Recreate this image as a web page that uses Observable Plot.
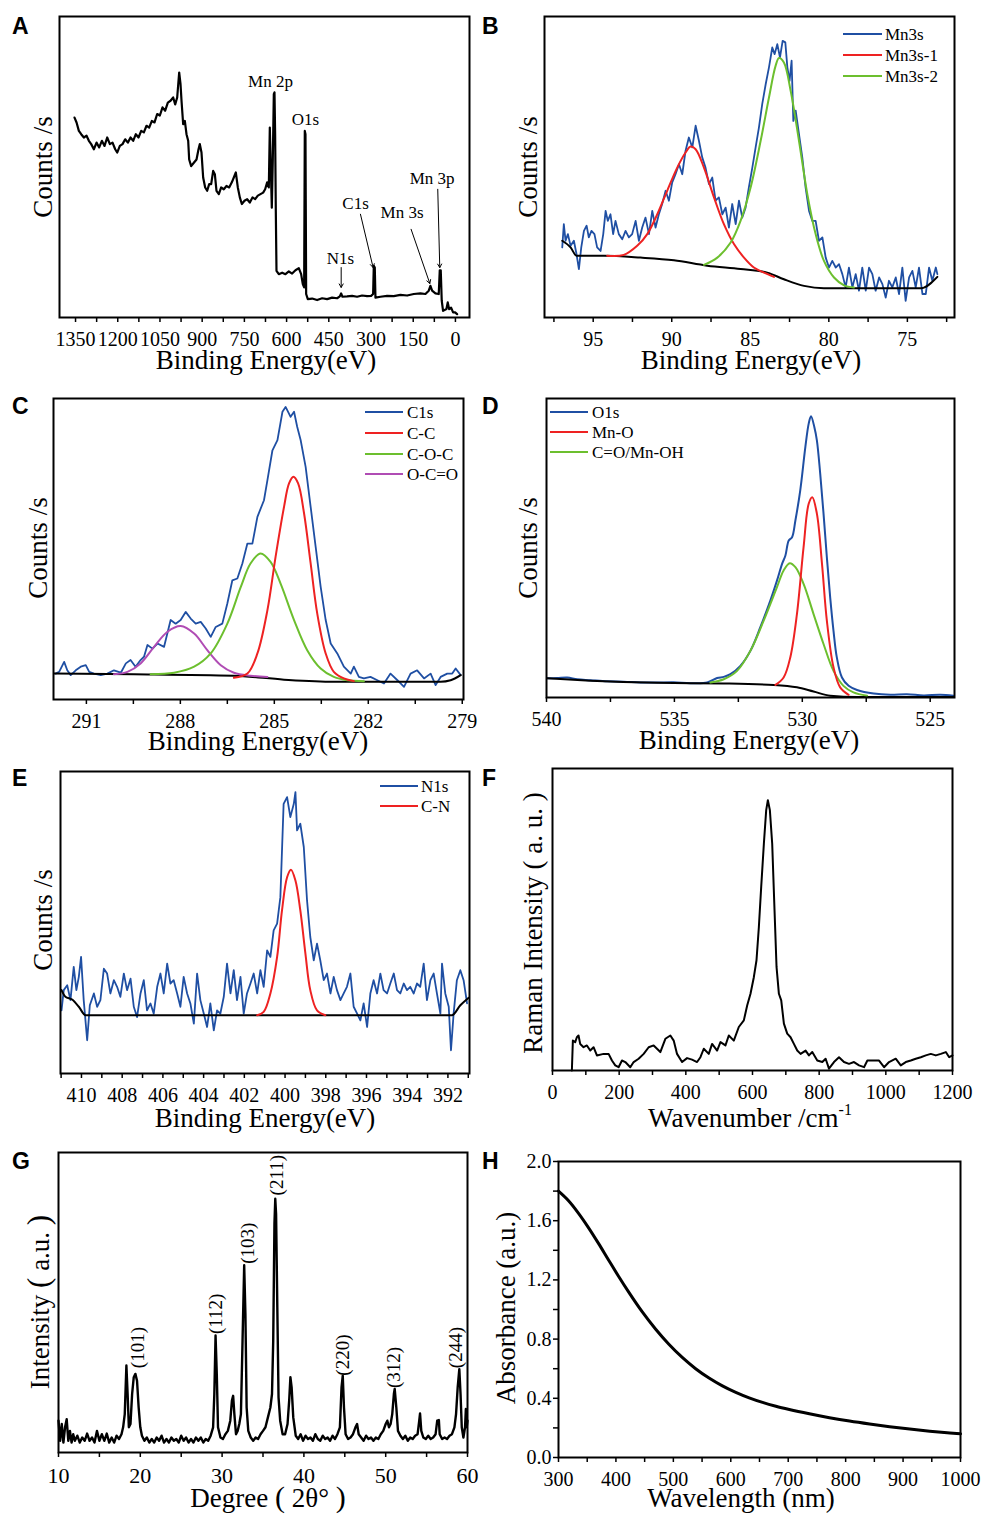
<!DOCTYPE html>
<html><head><meta charset="utf-8">
<script src="https://cdn.jsdelivr.net/npm/d3@7"></script>
<script src="https://cdn.jsdelivr.net/npm/@observablehq/plot@0.6"></script>
<style>
body{margin:0;background:#fff;}
#page{position:relative;width:982px;height:1515px;overflow:hidden;font-family:"Liberation Serif","Times New Roman",serif;color:#000;background:#fff;}
.abs{position:absolute;white-space:nowrap;line-height:1;}
</style></head><body><div id="page"></div>
<script>
const BLUE="#1f4fa3", RED="#ee2222", GREEN="#6cbf2e", PURPLE="#b04cb4";

// ---------- Panel A: XPS survey ----------
const surveyA = [[1353.6,66.4],[1346.4,64.8],[1338.2,62.0],[1329.9,60.9],[1320.4,59.8],[1310.9,60.4],[1302.6,58.7],[1294.3,57.6],[1284.9,55.9],[1275.4,58.1],[1265.9,56.5],[1256.4,58.7],[1247.0,57.0],[1237.5,59.8],[1228.0,57.6],[1218.6,58.1],[1209.1,55.9],[1202.0,54.8],[1192.5,57.0],[1183.0,57.6],[1173.6,59.2],[1164.1,58.1],[1154.6,59.8],[1145.1,58.7],[1135.7,60.9],[1126.2,59.8],[1116.7,62.0],[1107.2,61.5],[1097.8,63.7],[1088.3,63.1],[1078.8,65.3],[1069.3,64.8],[1059.9,67.6],[1050.4,67.1],[1040.9,69.8],[1031.5,68.7],[1022.0,71.4],[1012.5,72.0],[1003.0,73.1],[995.9,70.8],[988.8,73.1],[981.7,81.4],[976.9,77.5],[973.4,72.0],[967.5,64.2],[961.6,65.3],[955.7,60.9],[949.7,58.7],[946.2,52.5],[939.1,50.3],[929.6,51.4],[920.1,52.5],[913.0,55.9],[908.3,57.6],[902.4,54.8],[896.5,46.5],[889.3,43.2],[882.2,42.1],[875.1,44.3],[868.0,44.3],[860.9,48.7],[855.0,47.6],[849.1,42.1],[840.8,41.0],[832.5,43.2],[823.0,42.6],[813.6,43.7],[804.1,43.2],[794.6,44.9],[787.5,46.5],[780.4,48.2],[773.3,43.2],[766.2,39.9],[759.1,37.7],[749.6,38.8],[740.1,39.3],[730.7,38.2],[721.2,39.9],[711.7,39.3],[702.2,40.5],[692.8,41.0],[683.3,41.5],[676.2,42.6],[669.1,44.9],[663.2,43.2],[659.6,63.1],[656.1,49.8],[652.5,36.5],[649.0,52.5],[645.4,74.2],[643.0,74.8],[640.7,60.9],[638.3,35.4],[635.9,15.5],[627.6,14.4],[615.8,14.9],[604.0,14.4],[592.1,15.3],[580.3,14.6],[568.4,15.7],[556.6,16.4],[548.3,14.4],[542.4,11.1],[537.6,10.0],[535.3,62.0],[532.9,60.9],[530.5,7.8],[524.6,6.1],[509.2,6.3],[491.5,5.8],[473.7,6.4],[455.9,6.1],[438.2,6.6],[420.4,6.4],[410.9,7.0],[406.2,8.0],[401.5,6.9],[384.9,7.0],[367.1,7.2],[349.4,6.9],[331.6,7.3],[313.8,7.1],[299.6,7.2],[292.5,7.8],[290.1,17.2],[286.6,16.6],[284.2,6.6],[266.5,6.9],[242.8,7.2],[219.1,7.1],[195.4,7.5],[171.7,7.3],[148.0,7.8],[124.4,8.0],[106.6,7.8],[94.8,8.9],[88.9,10.5],[82.9,8.9],[71.1,8.0],[59.3,7.8],[55.7,15.7],[52.2,15.7],[48.6,5.5],[43.9,2.2],[32.0,2.8],[27.3,5.0],[22.5,2.8],[15.4,3.3],[8.3,1.7],[1.2,1.7],[-5.9,1.1]];
const peakNamesA = [["Mn 2p",657,78.3],["O1s",533,65.7],["C1s",355,37.7],["Mn 3s",189.5,34.9],["N1s",408.6,19.7],["Mn 3p",83,46.0]];
const arrowsA = [[406,16.6,406,10.0],[337.5,34.3,292.5,16.6],[157.5,29.3,91,11.3],[62.8,42.6,55.7,16.6]];
const ticksA = [1350,1275,1200,1125,1050,975,900,825,750,675,600,525,450,375,300,225,150,75,0];
const labelsA = [1350,1200,1050,900,750,600,450,300,150,0];

// ---------- Panel B: Mn3s ----------
const mn3s = [[96.97,23.3],[96.87,31.0],[96.76,25.5],[96.61,27.7],[96.44,23.8],[96.23,25.5],[96.06,21.0],[95.91,16.1],[95.76,23.3],[95.59,28.8],[95.42,30.5],[95.28,26.6],[95.11,28.8],[94.92,27.7],[94.75,23.3],[94.53,22.1],[94.36,27.7],[94.21,35.4],[94.07,32.1],[93.90,34.3],[93.73,27.7],[93.58,32.1],[93.37,27.7],[93.15,26.0],[92.94,28.8],[92.73,26.6],[92.52,27.7],[92.30,32.1],[92.09,25.5],[91.88,29.9],[91.67,33.2],[91.45,27.7],[91.24,35.4],[91.03,29.9],[90.82,34.3],[90.61,37.7],[90.39,42.1],[90.18,38.8],[89.97,44.9],[89.76,47.6],[89.54,50.9],[89.33,47.6],[89.12,55.4],[88.91,59.8],[88.69,56.5],[88.48,63.7],[88.27,58.7],[88.06,53.2],[87.85,49.8],[87.63,44.3],[87.42,46.5],[87.21,38.8],[87.00,39.9],[86.78,34.3],[86.57,36.5],[86.36,29.9],[86.15,37.7],[85.93,31.0],[85.72,38.8],[85.51,33.2],[85.30,36.5],[85.09,43.2],[84.87,49.8],[84.66,56.5],[84.45,63.1],[84.24,70.9],[84.02,77.5],[83.81,83.1],[83.60,89.7],[83.45,87.5],[83.28,90.8],[83.11,86.4],[82.94,91.9],[82.77,91.4],[82.64,83.1],[82.50,78.6],[82.37,85.3],[82.26,65.3],[82.11,68.7],[81.90,60.9],[81.69,53.2],[81.48,43.2],[81.26,35.4],[81.05,32.1],[80.84,32.1],[80.63,25.5],[80.41,26.6],[80.20,19.9],[79.99,16.6],[79.78,18.8],[79.56,16.6],[79.35,17.7],[79.14,14.4],[78.93,10.0],[78.72,16.6],[78.50,10.0],[78.29,14.4],[78.08,8.9],[77.87,16.6],[77.65,8.9],[77.44,16.6],[77.23,14.4],[77.02,8.9],[76.80,13.3],[76.59,11.1],[76.38,6.6],[76.17,12.2],[75.96,10.0],[75.74,13.3],[75.53,7.8],[75.32,16.6],[75.11,5.5],[74.89,13.3],[74.68,15.5],[74.47,10.0],[74.26,16.6],[74.04,7.8],[73.83,7.8],[73.62,16.6],[73.41,12.2],[73.19,16.6],[73.09,14.4]];
const mn3s1 = [[94.11,20.5],[93.05,20.8],[92.20,23.8],[91.56,27.7],[90.92,34.3],[90.29,42.1],[89.65,49.8],[89.12,54.8],[88.80,56.8],[88.48,55.9],[87.95,49.8],[87.31,39.9],[86.68,31.0],[86.04,24.4],[85.40,19.9],[84.77,16.6],[84.13,14.9],[83.49,13.5]];
const mn3s2 = [[87.95,17.5],[87.10,19.9],[86.25,24.9],[85.62,32.1],[84.98,43.2],[84.34,58.7],[83.81,73.1],[83.39,83.6],[83.17,86.2],[82.86,84.7],[82.43,75.3],[81.90,58.7],[81.37,41.0],[80.84,27.7],[80.31,18.8],[79.67,13.3],[79.03,10.7],[78.40,10.0]];
const bgB = [[96.97,25.5],[96.44,23.3],[96.06,20.5],[94.32,20.5],[91.99,19.9],[89.86,19.0],[87.74,17.2],[85.62,16.1],[83.92,14.9],[82.86,12.7],[81.58,10.5],[80.31,9.7],[74.15,9.7],[73.09,13.5]];
const ticksB = [97.5,95,92.5,90,87.5,85,82.5,80,77.5,75,72.5];
const labelsB = [95,90,85,80,75];

// ---------- Panel C: C1s ----------
const c1s = [[291.98,8.6],[291.87,9.2],[291.71,12.5],[291.61,9.7],[291.50,8.1],[291.34,9.7],[291.18,10.9],[291.02,11.4],[290.91,9.2],[290.76,8.6],[290.54,8.1],[290.33,8.6],[290.12,9.7],[289.90,8.9],[289.74,12.0],[289.59,13.1],[289.43,10.9],[289.27,13.1],[289.16,14.2],[289.05,18.1],[288.89,16.9],[288.73,18.6],[288.52,17.5],[288.31,26.4],[288.15,25.2],[287.99,26.4],[287.83,29.1],[287.67,26.9],[287.51,25.2],[287.35,25.8],[287.19,23.6],[287.03,20.8],[286.87,24.1],[286.66,25.2],[286.50,31.9],[286.34,39.6],[286.18,40.2],[286.02,45.2],[285.86,51.8],[285.70,51.8],[285.54,60.7],[285.33,66.2],[285.22,72.9],[285.06,82.8],[284.90,86.2],[284.74,95.6],[284.64,97.2],[284.48,93.9],[284.37,95.6],[284.27,90.6],[284.16,86.2],[284.00,77.3],[283.84,64.0],[283.68,50.7],[283.52,37.4],[283.36,26.4],[283.20,18.6],[282.99,15.3],[282.78,10.9],[282.56,8.6],[282.46,10.9],[282.30,7.5],[282.14,7.0],[281.93,7.5],[281.71,6.4],[281.50,5.3],[281.29,8.6],[281.07,6.4],[280.86,4.2],[280.65,8.6],[280.44,9.7],[280.22,7.0],[280.01,8.6],[279.85,4.8],[279.69,7.5],[279.48,8.6],[279.32,8.6],[279.21,10.3],[279.05,8.1]];
const ccC = [[286.29,7.2],[285.86,8.6],[285.54,15.3],[285.22,29.7],[284.96,47.4],[284.69,64.0],[284.53,71.8],[284.39,74.0],[284.24,71.8],[284.05,61.8],[283.84,45.2],[283.63,28.6],[283.36,15.3],[283.10,9.2],[282.78,7.0],[282.46,6.1]];
const cocC = [[288.95,8.4],[288.20,8.9],[287.56,10.9],[287.03,15.3],[286.50,25.2],[286.07,37.4],[285.76,45.2],[285.44,48.5],[285.12,45.7],[284.80,38.5],[284.37,26.4],[283.95,16.4],[283.52,10.3],[283.10,7.5],[282.67,6.4],[282.14,6.1]];
const ocoC = [[290.12,8.4],[289.69,9.2],[289.27,12.0],[288.84,17.5],[288.41,22.5],[287.99,24.4],[287.56,21.9],[287.14,16.4],[286.71,11.4],[286.29,8.9],[285.76,7.9],[285.22,7.5]];
const bgC = [[292.03,8.6],[289.48,8.4],[286.29,7.9],[284.69,6.6],[283.10,5.9],[279.69,5.9],[279.37,6.4],[279.05,8.1]];
const ticksC = [291,289.5,288,286.5,285,283.5,282,280.5,279];
const labelsC = [291,288,285,282,279];

// ---------- Panel D: O1s ----------
const o1s = [[539.97,6.4],[539.58,6.5],[539.19,6.7],[538.80,6.1],[538.28,5.8],[537.63,5.4],[536.98,5.3],[536.33,5.0],[535.68,5.0],[535.03,5.1],[534.38,4.8],[533.72,5.0],[533.33,6.5],[533.07,6.9],[532.81,7.8],[532.42,10.6],[532.03,15.6],[531.64,23.5],[531.25,32.4],[530.99,39.1],[530.79,44.7],[530.66,47.5],[530.53,52.5],[530.40,53.6],[530.27,59.2],[530.08,69.3],[529.88,83.8],[529.75,91.6],[529.66,94.1],[529.53,90.5],[529.43,86.0],[529.30,74.9],[529.17,61.5],[529.04,46.9],[528.91,33.5],[528.78,22.3],[528.65,13.4],[528.45,6.7],[528.19,3.9],[527.86,2.5],[527.21,1.3],[526.56,0.9],[525.91,1.1],[525.26,0.7],[524.61,0.9],[524.09,0.6]];
const mnoD = [[531.05,4.2],[530.73,6.7],[530.47,13.4],[530.21,27.9],[529.95,50.3],[529.75,64.8],[529.61,67.0],[529.43,61.5],[529.23,44.7],[529.04,25.7],[528.78,10.1],[528.52,3.4],[528.19,0.9]];
const cooD = [[533.59,5.0],[533.07,6.1],[532.55,8.9],[532.03,15.6],[531.51,25.7],[530.99,36.9],[530.73,42.5],[530.49,44.9],[530.27,43.6],[529.95,38.0],[529.56,27.9],[529.17,17.9],[528.78,8.9],[528.39,3.9],[528.00,1.7],[527.47,0.6]];
const bgD = [[539.97,6.4],[538.28,5.6],[535.68,4.9],[533.07,4.7],[531.12,4.2],[530.21,3.4],[529.56,2.0],[528.91,0.6],[527.86,0.2],[524.09,0.2]];
const ticksD = [540,537.5,535,532.5,530,527.5,525];
const labelsD = [540,535,530,525];

// ---------- Panel E: N1s ----------
const n1s = [[410.98,20.9],[410.87,27.6],[410.70,29.2],[410.54,24.3],[410.38,35.3],[410.25,27.6],[410.13,32.0],[410.02,38.6],[409.89,24.3],[409.72,11.0],[409.59,22.6],[409.39,26.5],[409.23,22.1],[409.07,24.3],[408.90,34.7],[408.74,33.1],[408.58,26.5],[408.41,30.9],[408.25,28.7],[408.09,25.4],[407.92,33.1],[407.76,27.6],[407.59,31.4],[407.43,22.1],[407.27,18.7],[407.10,26.5],[406.94,30.9],[406.78,20.9],[406.61,23.2],[406.45,19.8],[406.28,28.7],[406.12,33.1],[405.96,26.5],[405.79,36.4],[405.63,29.8],[405.47,30.9],[405.30,26.5],[405.14,22.1],[404.98,32.0],[404.81,26.5],[404.65,23.2],[404.48,16.5],[404.32,33.1],[404.16,24.3],[403.99,19.8],[403.83,15.4],[403.67,23.2],[403.50,14.3],[403.34,20.9],[403.18,19.8],[403.01,25.4],[402.85,36.4],[402.68,26.5],[402.52,34.2],[402.36,24.3],[402.19,32.0],[402.03,19.8],[401.87,26.5],[401.70,29.8],[401.54,33.1],[401.37,26.5],[401.21,34.2],[401.05,28.7],[400.88,40.8],[400.72,38.6],[400.56,47.4],[400.39,49.6],[400.23,58.4],[400.07,89.3],[399.90,91.5],[399.74,84.9],[399.57,89.3],[399.49,93.2],[399.41,80.5],[399.25,82.7],[399.08,75.0],[398.92,57.3],[398.76,45.2],[398.59,37.5],[398.43,43.0],[398.27,37.5],[398.10,30.9],[397.94,33.1],[397.77,26.5],[397.61,32.0],[397.45,27.6],[397.28,24.3],[397.12,26.5],[396.96,28.7],[396.79,33.1],[396.63,22.1],[396.46,19.8],[396.30,17.6],[396.14,23.2],[395.97,15.4],[395.81,26.5],[395.65,30.9],[395.48,26.5],[395.32,33.1],[395.16,27.6],[394.99,26.5],[394.83,29.8],[394.66,33.1],[394.50,27.6],[394.34,26.5],[394.17,29.8],[394.01,27.6],[393.85,28.7],[393.68,26.5],[393.52,29.8],[393.36,28.7],[393.19,36.4],[393.03,24.3],[392.86,30.9],[392.70,33.1],[392.54,26.5],[392.37,19.8],[392.29,36.4],[392.13,26.5],[391.96,22.1],[391.85,7.7],[391.72,19.8],[391.56,30.9],[391.39,34.2],[391.23,30.9],[391.06,23.2]];
const cnE = [[401.37,19.3],[401.05,20.4],[400.72,26.5],[400.39,38.6],[400.15,54.0],[399.90,65.0],[399.71,67.5],[399.49,63.9],[399.25,54.0],[399.00,39.7],[398.76,27.6],[398.43,20.9],[398.02,19.3]];
const bgE = [[410.98,27.6],[410.79,25.4],[410.46,24.5],[410.13,22.1],[409.80,19.3],[391.80,19.3],[391.39,22.6],[390.98,25.1]];
const ticksE = [411,410,409,408,407,406,405,404,403,402,401,400,399,398,397,396,395,394,393,392,391];
const labelsE = [410,408,406,404,402,400,398,396,394,392];

// ---------- Panel F: Raman ----------
const raman = [[58.1,0],[61.1,9.9],[68.1,9.4],[73.1,11.0],[78.1,11.6],[83.1,8.8],[93.2,7.7],[103.2,8.3],[113.2,6.6],[123.2,7.7],[133.2,5.0],[153.3,5.5],[168.3,5.5],[178.3,3.3],[188.3,1.7],[198.3,1.1],[208.4,3.3],[218.4,2.8],[233.4,1.1],[243.4,2.8],[258.4,3.9],[273.5,5.5],[288.5,7.7],[303.5,8.3],[313.5,7.2],[323.5,6.1],[338.6,10.5],[353.6,11.6],[363.6,9.9],[373.6,5.5],[388.7,2.8],[403.7,4.1],[418.7,3.6],[433.7,2.8],[443.8,4.4],[453.8,7.2],[468.8,5.5],[478.8,8.8],[493.8,6.6],[503.9,9.4],[518.9,8.3],[528.9,11.6],[543.9,9.9],[558.9,14.4],[574.0,16.6],[584.0,21.5],[594.0,25.4],[604.0,30.9],[612.0,36.5],[619.1,47.5],[626.1,60.8],[634.1,75.1],[641.1,86.2],[646.1,89.5],[652.1,86.2],[659.1,75.1],[666.1,53.0],[672.1,34.3],[679.2,25.4],[686.2,23.2],[694.2,15.5],[704.2,12.2],[714.2,11.0],[724.2,8.8],[734.2,6.6],[744.3,5.5],[759.3,6.6],[769.3,5.0],[779.3,6.1],[794.3,3.3],[809.4,2.8],[819.4,3.9],[829.4,0.6],[844.4,2.8],[859.5,4.4],[874.5,2.8],[889.5,2.2],[904.5,2.8],[919.6,1.7],[934.6,1.1],[944.6,3.3],[964.6,3.3],[979.7,3.3],[994.7,1.1],[1009.7,2.8],[1029.7,3.9],[1044.8,1.7],[1059.8,2.8],[1074.8,3.3],[1089.8,3.9],[1104.9,4.4],[1119.9,5.0],[1134.9,5.5],[1149.9,5.0],[1165.0,5.5],[1180.0,6.1],[1190.0,4.4],[1200.0,5.0]];
const ticksF = [0,100,200,300,400,500,600,700,800,900,1000,1100,1200];
const labelsF = [0,200,400,600,800,1000,1200];

// ---------- Panel G: XRD ----------
const xrd = [[10.0,10.6],[10.2,3.9],[10.4,9.5],[10.6,3.3],[10.8,8.4],[11.0,11.1],[11.2,3.9],[11.4,7.2],[11.6,3.3],[11.8,6.1],[12.0,3.9],[12.3,5.6],[12.6,3.3],[12.9,5.0],[13.2,3.9],[13.5,6.3],[13.8,3.9],[14.1,5.0],[14.4,3.3],[14.7,7.2],[15.0,3.9],[15.3,6.1],[15.6,3.9],[15.9,6.3],[16.2,3.3],[16.5,5.0],[16.8,3.3],[17.1,5.6],[17.4,4.5],[17.7,6.1],[17.9,8.4],[18.1,12.8],[18.3,29.0],[18.45,19.5],[18.6,8.4],[18.8,9.5],[19.0,19.5],[19.2,25.1],[19.4,26.2],[19.6,23.9],[19.8,15.0],[20.0,8.4],[20.2,5.6],[20.5,3.9],[20.8,5.0],[21.1,3.3],[21.4,4.5],[21.7,3.3],[22.0,5.0],[22.3,3.9],[22.6,5.6],[22.9,3.3],[23.2,4.5],[23.5,3.3],[23.8,5.0],[24.1,3.9],[24.4,4.5],[24.7,3.3],[25.0,5.6],[25.3,3.9],[25.6,5.0],[25.9,3.3],[26.2,4.5],[26.5,3.3],[26.8,5.0],[27.1,3.9],[27.4,5.0],[27.7,3.3],[28.0,4.5],[28.3,3.9],[28.6,5.6],[28.9,8.4],[29.05,19.5],[29.2,39.0],[29.35,26.2],[29.5,8.4],[29.8,5.0],[30.1,4.5],[30.4,6.1],[30.7,7.2],[31.0,10.6],[31.2,17.3],[31.35,18.9],[31.5,12.8],[31.7,6.1],[31.9,7.2],[32.1,9.5],[32.3,12.8],[32.5,37.3],[32.7,62.4],[32.85,46.2],[33.0,15.0],[33.2,7.2],[33.5,5.0],[33.8,3.9],[34.1,5.0],[34.4,4.5],[34.7,6.1],[35.0,7.2],[35.3,8.4],[35.6,11.7],[35.9,15.0],[36.1,19.5],[36.25,37.3],[36.4,76.3],[36.5,84.6],[36.6,79.5],[36.75,48.4],[36.9,18.4],[37.1,10.6],[37.4,6.1],[37.7,6.1],[38.0,9.5],[38.2,17.3],[38.35,25.1],[38.5,21.7],[38.7,11.7],[39.0,5.6],[39.3,4.5],[39.6,6.1],[39.9,3.9],[40.2,5.6],[40.5,4.5],[40.8,5.0],[41.1,3.9],[41.4,6.1],[41.7,4.5],[42.0,3.9],[42.3,5.6],[42.6,4.5],[42.9,5.0],[43.2,3.9],[43.5,5.6],[43.8,4.5],[44.1,6.1],[44.4,8.4],[44.6,21.7],[44.75,25.6],[44.9,15.0],[45.1,6.1],[45.4,4.5],[45.7,5.0],[46.0,6.1],[46.3,8.4],[46.5,9.5],[46.7,6.1],[47.0,5.0],[47.3,3.9],[47.6,5.6],[47.9,4.5],[48.2,5.0],[48.5,3.9],[48.8,5.0],[49.1,4.5],[49.4,6.1],[49.7,7.2],[50.0,9.5],[50.2,10.6],[50.4,8.4],[50.6,9.5],[50.8,12.8],[51.0,19.5],[51.1,21.2],[51.3,15.0],[51.5,7.2],[51.8,5.6],[52.1,4.5],[52.4,5.6],[52.7,3.9],[53.0,5.0],[53.3,4.5],[53.6,5.6],[53.9,6.1],[54.1,10.6],[54.2,13.0],[54.35,7.2],[54.6,5.0],[54.9,4.5],[55.2,5.6],[55.5,4.5],[55.8,5.0],[56.1,6.1],[56.3,10.6],[56.5,10.8],[56.6,6.1],[56.9,4.5],[57.2,5.0],[57.5,4.5],[57.8,5.6],[58.1,6.1],[58.4,8.4],[58.6,12.8],[58.8,21.7],[59.0,27.8],[59.15,19.5],[59.3,8.4],[59.5,5.0],[59.7,8.4],[59.8,14.5],[59.9,8.4],[60.0,10.6]];
const hklG = [[19.66,28.1,"(101)"],[29.23,39.5,"(112)"],[33.11,62.9,"(103)"],[36.69,85.7,"(211)"],[44.72,25.6,"(220)"],[51.04,21.5,"(312)"],[58.57,28.1,"(244)"]];
const ticksG = [10,15,20,25,30,35,40,45,50,55,60];
const labelsG = [10,20,30,40,50,60];

// ---------- Panel H: UV-vis ----------
const uvvis = [[300,1.800],[317.5,1.735],[334.9,1.650],[352.4,1.552],[369.9,1.445],[387.4,1.333],[404.8,1.223],[422.3,1.117],[445.6,0.985],[468.9,0.868],[492.2,0.765],[515.5,0.676],[538.8,0.600],[562.1,0.537],[585.4,0.484],[608.7,0.440],[632.0,0.403],[655.3,0.372],[678.6,0.346],[701.9,0.324],[736.8,0.295],[771.8,0.269],[806.7,0.246],[841.7,0.226],[876.6,0.208],[911.6,0.192],[946.5,0.178],[981.4,0.166],[1000,0.160]];
const ticksHx = [300,350,400,450,500,550,600,650,700,750,800,850,900,950,1000];
const labelsHx = [300,400,500,600,700,800,900,1000];
const ticksHy = [0,0.2,0.4,0.6,0.8,1.0,1.2,1.4,1.6,1.8,2.0];
const labelsHy = [0,0.4,0.8,1.2,1.6,2.0];

// ---------- rendering ----------
const page = document.getElementById("page");
const SERIF = "'Liberation Serif','Times New Roman',serif";
const X = d => d[0], Y = d => d[1];

function panel(cfg) {
  const [L, T, R, B] = cfg.frame;
  const mL = cfg.mL ?? 12, mR = 16, mT = 12, mB = 46;
  const fs = cfg.tickFont ?? 20;
  const marks = [...cfg.marks];
  marks.push(Plot.axisX({ticks: cfg.xTicks, tickSize: 5, tickPadding: cfg.tickPad ?? 9, strokeWidth: 1.5, fontSize: fs, label: null,
    tickFormat: d => cfg.xLabels.includes(d) ? String(d) : ""}));
  if (cfg.yTicks) marks.push(Plot.axisY({ticks: cfg.yTicks, tickSize: 5, tickPadding: 2, strokeWidth: 1.5, fontSize: fs, label: null,
    tickFormat: d => cfg.yLabels.includes(d) ? d3.format(".1f")(d) : ""}));
  marks.push(Plot.frame({stroke: "#000", strokeWidth: 2}));
  const svg = Plot.plot({
    width: R - L + mL + mR, height: B - T + mT + mB,
    marginLeft: mL, marginRight: mR, marginTop: mT, marginBottom: mB,
    x: {domain: cfg.xDomain},
    y: cfg.yTicks ? {domain: cfg.yDomain} : {domain: cfg.yDomain, axis: null},
    style: {fontFamily: SERIF, fontSize: fs + "px", color: "#000", background: "transparent", overflow: "visible"},
    marks
  });
  svg.style.position = "absolute";
  svg.style.left = (L - mL) + "px";
  svg.style.top = (T - mT) + "px";
  svg.style.maxWidth = "none";
  page.appendChild(svg);
}

function txt(html, x, y, size, opts = {}) {
  const d = document.createElement("div");
  d.className = "abs";
  d.innerHTML = html;
  d.style.fontSize = size + "px";
  d.style.left = x + "px";
  d.style.top = y + "px";
  if (opts.font) d.style.fontFamily = opts.font;
  if (opts.bold) d.style.fontWeight = "bold";
  if (opts.rot) d.style.transform = "translate(-50%,-50%) rotate(-90deg)";
  else if (opts.center) d.style.transform = "translate(-50%,-50%)";
  else if (opts.vcenter) d.style.transform = "translateY(-50%)";
  page.appendChild(d);
}

function legend(x1, x2, tx, y0, dy, items) {
  items.forEach(([label, color], i) => {
    const cy = y0 + i * dy;
    const ln = document.createElement("div");
    ln.className = "abs";
    Object.assign(ln.style, {left: x1 + "px", top: (cy - 1) + "px", width: (x2 - x1) + "px", height: "2px", background: color});
    page.appendChild(ln);
    txt(label, tx, cy, 17, {vcenter: true});
  });
}

// A
panel({frame: [59, 16, 469, 317], xDomain: [1407, -50], yDomain: [0, 100], xTicks: ticksA, xLabels: labelsA,
  marks: [
    Plot.line(surveyA, {x: X, y: Y, stroke: "#000", strokeWidth: 2.2}),
    Plot.arrow(arrowsA, {x1: d => d[0], y1: d => d[1], x2: d => d[2], y2: d => d[3], stroke: "#000", strokeWidth: 1, headLength: 6}),
    Plot.text(peakNamesA, {x: d => d[1], y: d => d[2], text: d => d[0], fontSize: 17, fill: "#000"})
  ]});
// B
panel({frame: [544, 16, 954, 317], xDomain: [98.1, 72.0], yDomain: [0, 100], xTicks: ticksB, xLabels: labelsB,
  marks: [
    Plot.line(mn3s, {x: X, y: Y, stroke: BLUE, strokeWidth: 1.8}),
    Plot.line(bgB, {x: X, y: Y, stroke: "#000", strokeWidth: 2, curve: "monotone-x"}),
    Plot.line(mn3s1, {x: X, y: Y, stroke: RED, strokeWidth: 2, curve: "catmull-rom"}),
    Plot.line(mn3s2, {x: X, y: Y, stroke: GREEN, strokeWidth: 2, curve: "catmull-rom"})
  ]});
// C
panel({frame: [53, 398, 463, 699], xDomain: [292.05, 278.96], yDomain: [0, 100], xTicks: ticksC, xLabels: labelsC,
  marks: [
    Plot.line(c1s, {x: X, y: Y, stroke: BLUE, strokeWidth: 1.8}),
    Plot.line(bgC, {x: X, y: Y, stroke: "#000", strokeWidth: 2, curve: "monotone-x"}),
    Plot.line(ocoC, {x: X, y: Y, stroke: PURPLE, strokeWidth: 2, curve: "catmull-rom"}),
    Plot.line(cocC, {x: X, y: Y, stroke: GREEN, strokeWidth: 2, curve: "catmull-rom"}),
    Plot.line(ccC, {x: X, y: Y, stroke: RED, strokeWidth: 2, curve: "catmull-rom"})
  ]});
// D
panel({frame: [546, 398, 954, 697], xDomain: [540, 524.05], yDomain: [0, 100], xTicks: ticksD, xLabels: labelsD,
  marks: [
    Plot.line(o1s, {x: X, y: Y, stroke: BLUE, strokeWidth: 2, curve: "catmull-rom"}),
    Plot.line(bgD, {x: X, y: Y, stroke: "#000", strokeWidth: 2, curve: "monotone-x"}),
    Plot.line(cooD, {x: X, y: Y, stroke: GREEN, strokeWidth: 2, curve: "catmull-rom"}),
    Plot.line(mnoD, {x: X, y: Y, stroke: RED, strokeWidth: 2, curve: "catmull-rom"})
  ]});
// E
panel({frame: [60, 771, 469, 1073], xDomain: [411.03, 390.94], yDomain: [0, 100], xTicks: ticksE, xLabels: labelsE,
  marks: [
    Plot.line(n1s, {x: X, y: Y, stroke: BLUE, strokeWidth: 1.8}),
    Plot.line(bgE, {x: X, y: Y, stroke: "#000", strokeWidth: 2, curve: "monotone-x"}),
    Plot.line(cnE, {x: X, y: Y, stroke: RED, strokeWidth: 2, curve: "catmull-rom"})
  ]});
// F
panel({frame: [552, 768, 952, 1070], xDomain: [0, 1200], yDomain: [0, 100], xTicks: ticksF, xLabels: labelsF,
  marks: [
    Plot.line(raman, {x: X, y: Y, stroke: "#000", strokeWidth: 2})
  ]});
// G
panel({frame: [58, 1152, 467, 1452], xDomain: [10, 60], yDomain: [0, 100], xTicks: ticksG, xLabels: labelsG, tickFont: 22, tickPad: 10,
  marks: [
    Plot.line(xrd, {x: X, y: Y, stroke: "#000", strokeWidth: 2.4}),
    Plot.text(hklG, {x: d => d[0], y: d => d[1], text: d => d[2], rotate: -90, textAnchor: "start", fontSize: 19, fill: "#000"})
  ]});
// H
panel({frame: [558, 1161, 960, 1457], mL: 56, xDomain: [300, 1000], yDomain: [0, 2], xTicks: ticksHx, xLabels: labelsHx,
  yTicks: ticksHy, yLabels: labelsHy,
  marks: [
    Plot.line(uvvis, {x: X, y: Y, stroke: "#000", strokeWidth: 3, curve: "monotone-x"})
  ]});

// axis titles
const BE = "Binding Energy(eV)";
txt(BE, 266, 360, 27, {center: true});
txt(BE, 751, 360, 27, {center: true});
txt(BE, 258, 741, 27, {center: true});
txt(BE, 749, 740, 27, {center: true});
txt(BE, 265, 1118, 27, {center: true});
txt('Wavenumber /cm<sup style="font-size:16px;vertical-align:0;position:relative;top:-12px">-1</sup>', 750, 1118, 27, {center: true});
txt('Degree <span style="font-size:30px">(</span> 2θ° <span style="font-size:30px">)</span>', 268, 1497, 27, {center: true});
txt("Wavelength (nm)", 741, 1498, 27, {center: true});

const CS = "Counts /s";
txt(CS, 43, 167, 27, {rot: true});
txt(CS, 528, 167, 27, {rot: true});
txt(CS, 38, 548, 27, {rot: true});
txt(CS, 528, 548, 27, {rot: true});
txt(CS, 43, 920, 27, {rot: true});
txt("Raman Intensity ( a. u. )", 533, 923, 27, {rot: true});
txt('Intensity <span style="font-size:31px">(</span> a.u. <span style="font-size:31px">)</span>', 38, 1302, 27, {rot: true});
txt("Absorbance (a.u.)", 506, 1308, 27, {rot: true});

// legends
legend(843, 882, 885, 34.3, 20.8, [["Mn3s", BLUE], ["Mn3s-1", RED], ["Mn3s-2", GREEN]]);
legend(365, 403, 407, 412.3, 20.6, [["C1s", BLUE], ["C-C", RED], ["C-O-C", GREEN], ["O-C=O", PURPLE]]);
legend(550, 588, 592, 411.7, 20.2, [["O1s", BLUE], ["Mn-O", RED], ["C=O/Mn-OH", GREEN]]);
legend(380, 418, 421, 785.7, 20.3, [["N1s", BLUE], ["C-N", RED]]);

// panel letters
const SANS = "'Liberation Sans', Arial, sans-serif";
[["A", 12, 15], ["B", 482, 15], ["C", 12, 395], ["D", 482, 395], ["E", 12, 767], ["F", 482, 767], ["G", 12, 1150], ["H", 482, 1150]]
  .forEach(([l, x, y]) => txt(l, x, y, 23, {font: SANS, bold: true}));
</script></body></html>
